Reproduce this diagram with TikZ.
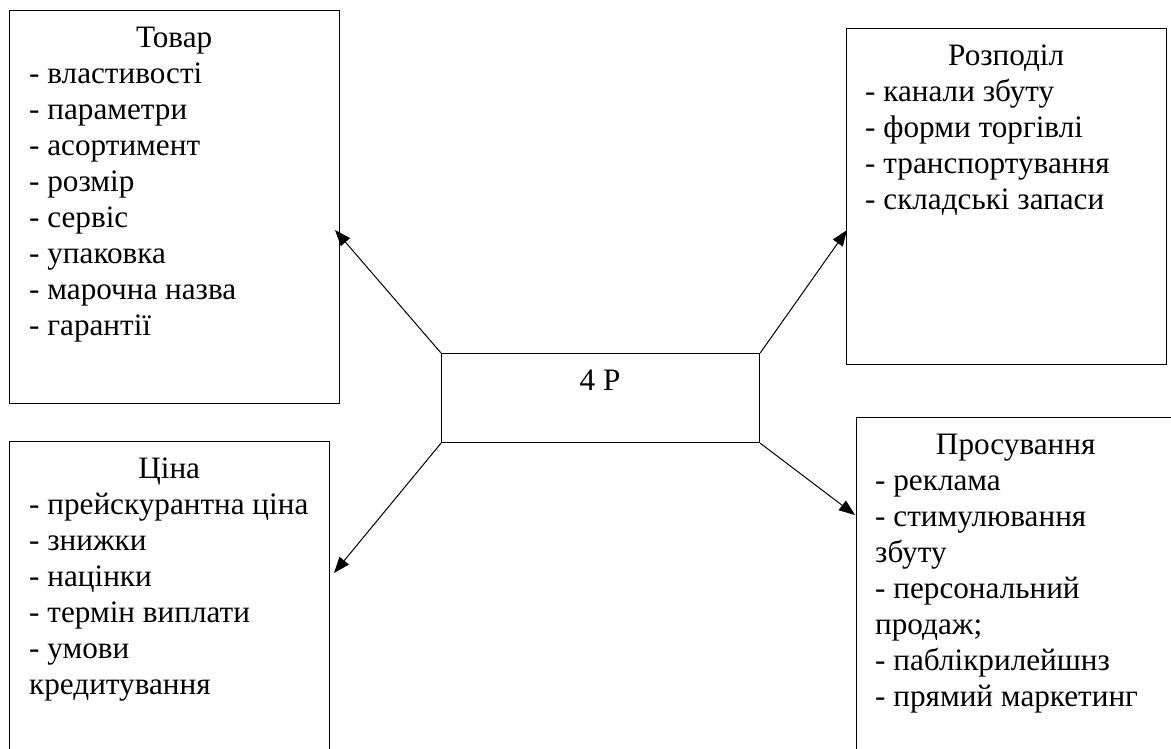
\documentclass[tikz,border=0pt]{standalone}
\usepackage{fontspec}
\setmainfont{Liberation Serif}
\usetikzlibrary{arrows.meta}
\begin{document}
\begin{tikzpicture}[x=1pt,y=-1pt,
  box/.style={draw, line width=1.2pt, anchor=north west, inner sep=0pt, rectangle},
  txt/.style={anchor=north west, inner sep=0pt, align=left, font=\fontsize{31.2pt}{36pt}\selectfont},
  arr/.style={-{Triangle[length=16pt,width=12pt]}, line width=1pt}]
\fill[white] (0,0) rectangle (1171,749);
\useasboundingbox (0,0) rectangle (1171,749);
% boxes
\node[box, minimum width=330pt, minimum height=393pt] (tovar) at (9,10) {};
\node[box, minimum width=320pt, minimum height=400pt] (cina) at (9,441) {};
\node[box, minimum width=320pt, minimum height=336pt] (rozp) at (846,28) {};
\node[box, minimum width=500pt, minimum height=400pt] (prosuv) at (856,417) {};
\node[box, minimum width=318pt, minimum height=89pt] (c4p) at (441,353) {};
% texts
\node[txt] (tovarT) at ([shift={(20,12)}]tovar.north west) {\makebox[290pt]{\strut Товар}\\
- властивості\\ - параметри\\ - асортимент\\ - розмір\\ - сервіс\\ - упаковка\\ - марочна назва\\ - гарантії};
\node[txt] (cinaT) at ([shift={(20,12)}]cina.north west) {\makebox[280pt]{\strut Ціна}\\
- прейскурантна ціна\\ - знижки\\ - націнки\\ - термін виплати\\ - умови\\ кредитування};
\node[txt] (rozpT) at ([shift={(19,12)}]rozp.north west) {\makebox[282pt]{\strut Розподіл}\\
- канали збуту\\ - форми торгівлі\\ - транспортування\\ - складські запаси};
\node[txt] (prosuvT) at ([shift={(19,12)}]prosuv.north west) {\makebox[281pt]{\strut Просування}\\
- реклама\\ - стимулювання\\ збуту\\ - персональний\\ продаж;\\ - паблікрилейшнз\\ - прямий маркетинг};
\node[anchor=base, inner sep=0pt, font=\fontsize{31.2pt}{36pt}\selectfont] (c4pT) at (600,390) {4 P};
% arrow targets
\coordinate (tTovar) at (335,230);
\coordinate (tRozp) at (847,230);
\coordinate (tCina) at (334,573);
\coordinate (tProsuv) at (855,515);
% connectors
\draw[arr] (c4p.north west) -- (tTovar);
\draw[arr] (c4p.north east) -- (tRozp);
\draw[arr] (c4p.south west) -- (tCina);
\draw[arr] (c4p.south east) -- (tProsuv);
\end{tikzpicture}
\end{document}
